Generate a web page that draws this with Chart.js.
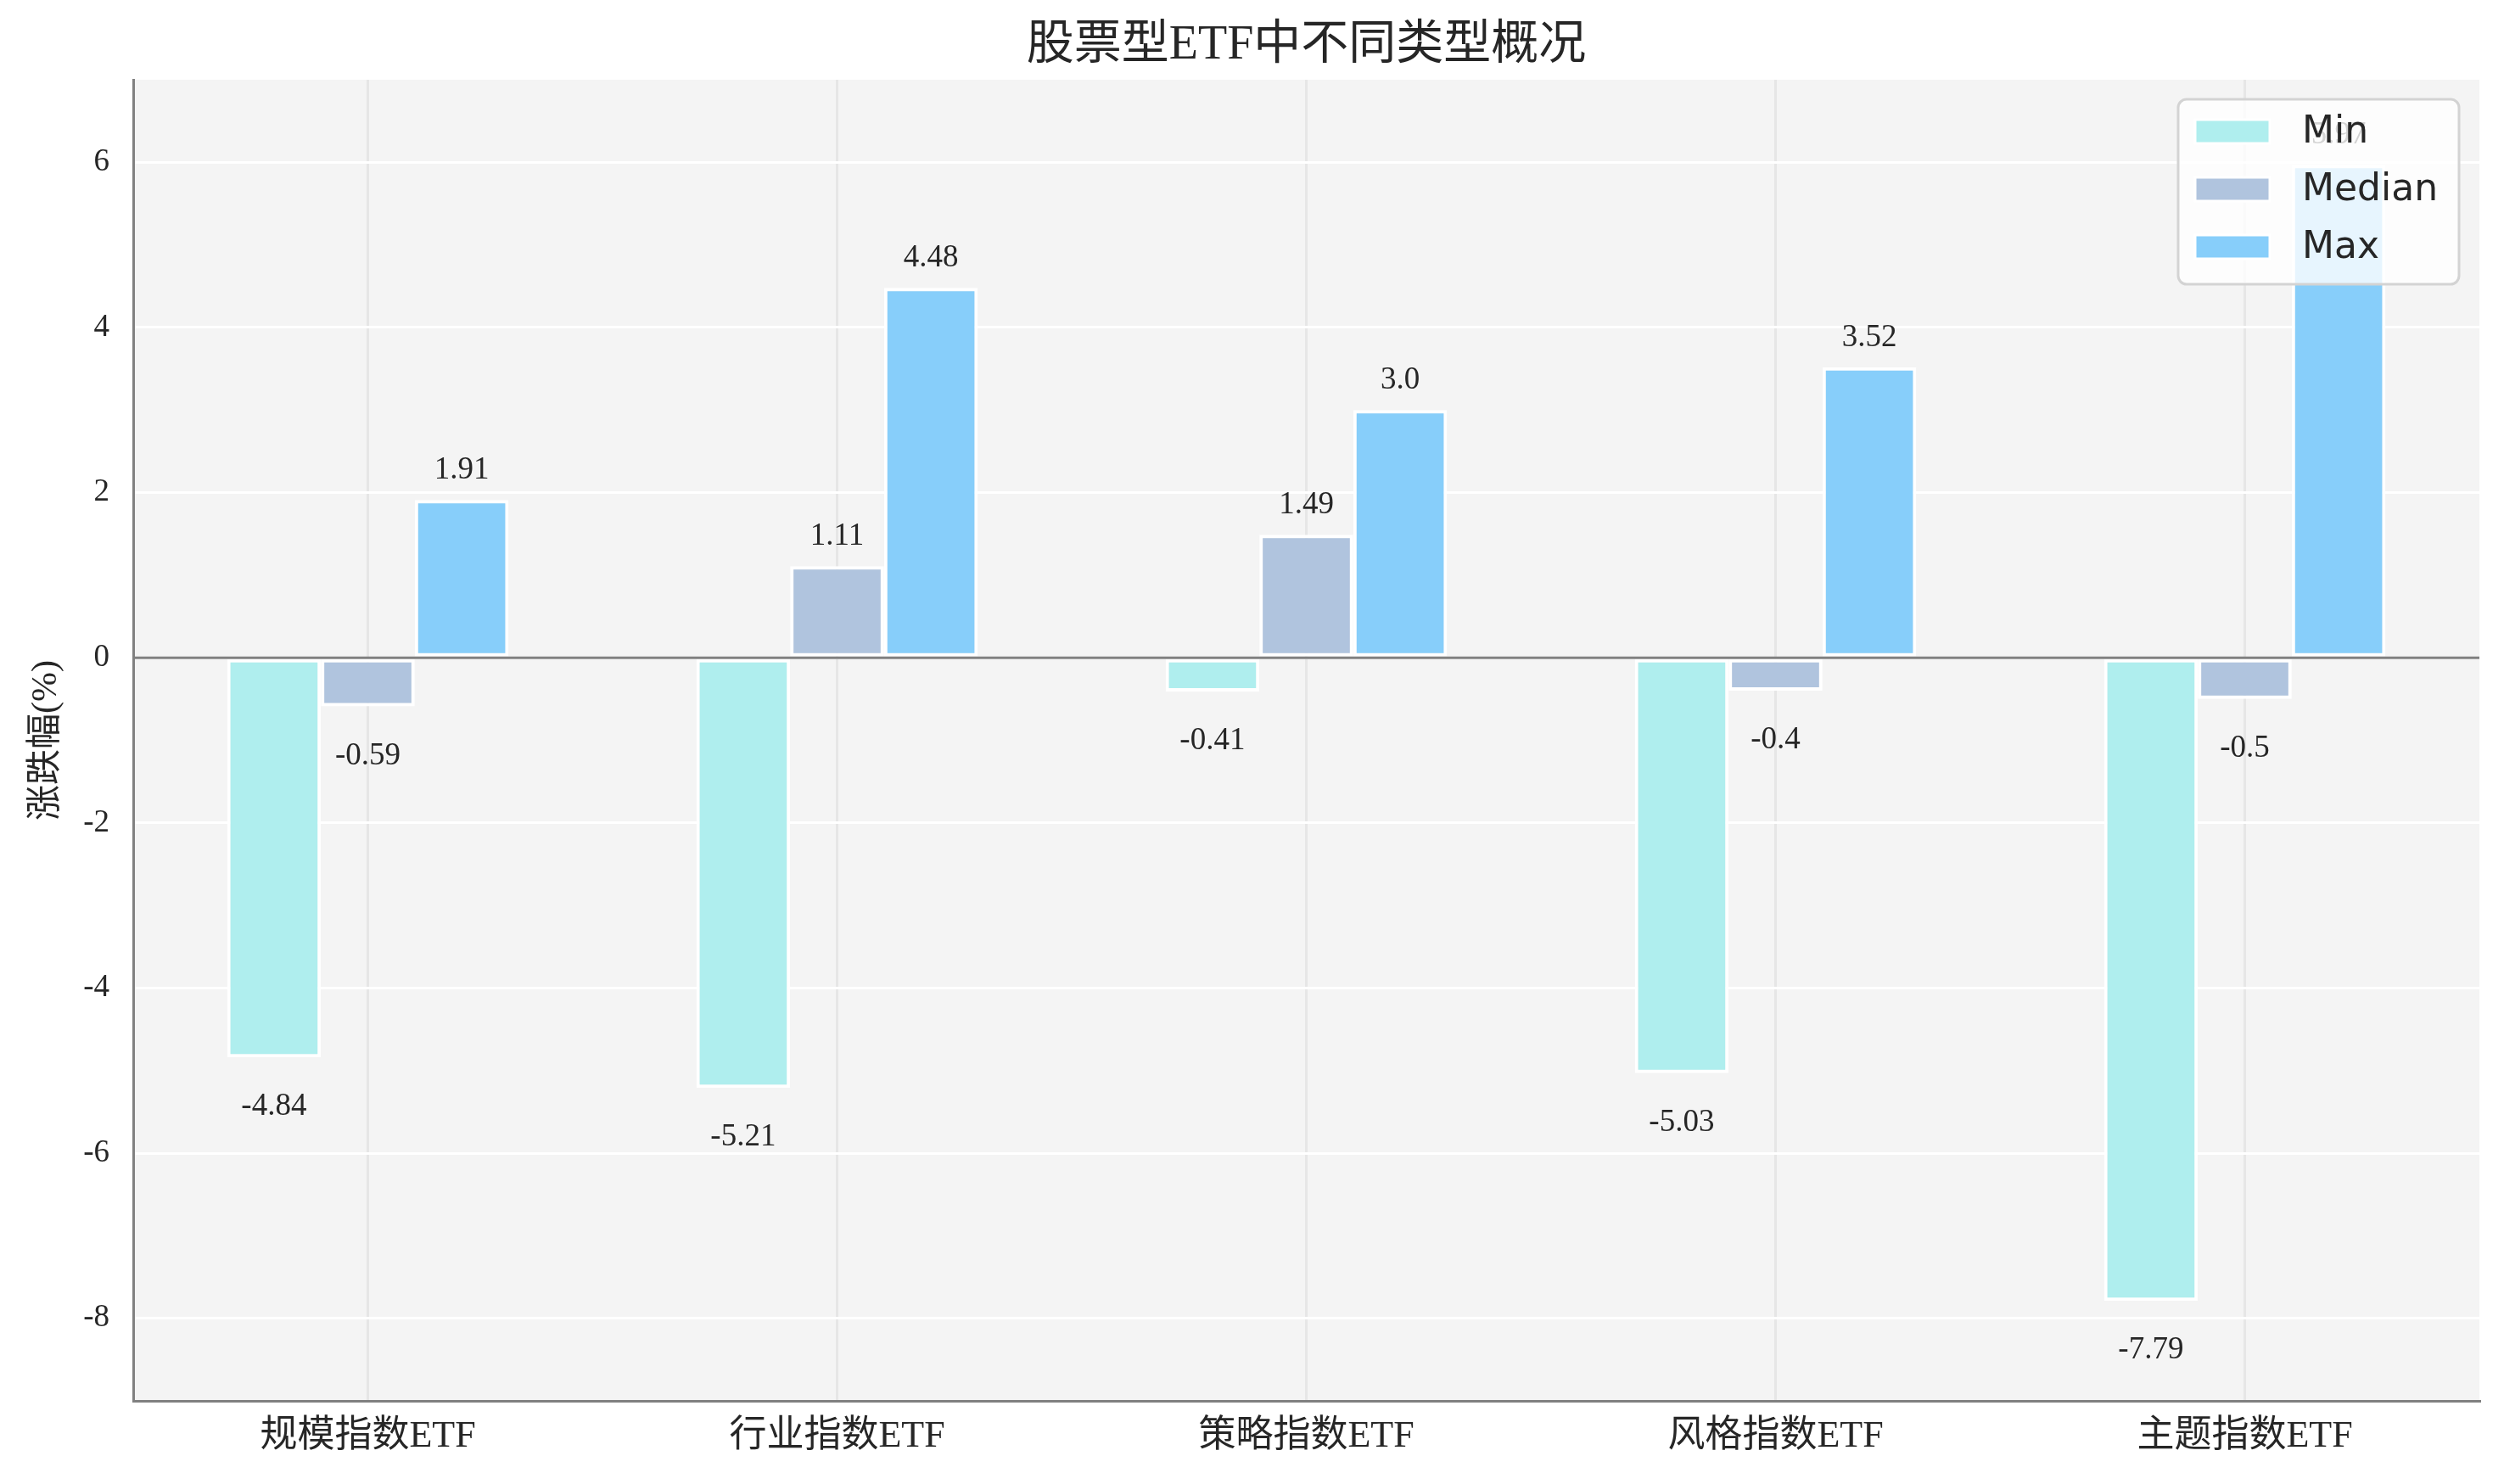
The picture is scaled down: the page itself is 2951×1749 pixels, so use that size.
<!DOCTYPE html>
<html>
<head>
<meta charset="utf-8">
<script src="https://cdn.jsdelivr.net/npm/chart.js@4.4.1/dist/chart.umd.min.js"></script>
<style>
  html, body { margin: 0; padding: 0; background: #ffffff; }
  #wrap { width: 2951px; height: 1749px; position: relative; }
</style>
</head>
<body>
<div id="wrap"><canvas id="myChart"></canvas></div>
<script>
// data
const categories = ['规模指数ETF', '行业指数ETF', '策略指数ETF', '风格指数ETF', '主题指数ETF'];
const minVals = [-4.84, -5.21, -0.41, -5.03, -7.79];
const medianVals = [-0.59, 1.11, 1.49, -0.4, -0.5];
const maxVals = [1.91, 4.48, 3.0, 3.52, 5.97];
const seriesNames = ['Min', 'Median', 'Max'];
const yTicks = [-8, -6, -4, -2, 0, 2, 4, 6];

const colors = ['#AFEEEE', '#B0C4DE', '#87CEFA'];
const serif = '"Liberation Serif", "Noto Sans CJK SC", serif';
const textColor = '#262626';
const titleText = '股票型ETF中不同类型概况';

function fmt(v) {
    return Number.isInteger(v) ? v.toFixed(1) : String(v);
}

// plot background
const bgPlugin = {
    id: 'plotBg',
    beforeDraw(chart) {
        const a = chart.chartArea, ctx = chart.ctx;
        ctx.save();
        ctx.fillStyle = '#f4f4f4';
        ctx.fillRect(a.left, a.top, a.right - a.left, a.bottom - a.top);
        ctx.restore();
    }
};

// zero line + value labels
const labelPlugin = {
    id: 'valueLabels',
    afterDatasetsDraw(chart) {
        const ctx = chart.ctx, a = chart.chartArea;
        const y0 = chart.scales.y.getPixelForValue(0);
        ctx.save();
        ctx.strokeStyle = '#808080';
        ctx.lineWidth = 3;
        ctx.beginPath();
        ctx.moveTo(a.left, y0);
        ctx.lineTo(a.right, y0);
        ctx.stroke();

        ctx.fillStyle = textColor;
        ctx.font = '37px ' + serif;
        ctx.textAlign = 'center';
        ctx.textBaseline = 'alphabetic';
        chart.data.datasets.forEach((ds, i) => {
            chart.getDatasetMeta(i).data.forEach((bar, j) => {
                const v = ds.data[j];
                const y = v >= 0 ? bar.y - 25 : bar.y + 68;
                ctx.fillText(fmt(v), bar.x, y);
            });
        });
        ctx.restore();
    }
};

// title centred over the plot, legend box inside the plot (top right)
const legendPlugin = {
    id: 'boxLegend',
    afterDraw(chart) {
        const ctx = chart.ctx, a = chart.chartArea;
        ctx.save();
        ctx.fillStyle = textColor;
        ctx.font = '56px ' + serif;
        ctx.textAlign = 'center';
        ctx.textBaseline = 'middle';
        ctx.fillText(titleText, (a.left + a.right) / 2, 54);

        const w = 331, h = 218;
        const x = a.right - 24 - w, y = a.top + 23;
        ctx.beginPath();
        ctx.roundRect(x, y, w, h, 10);
        ctx.fillStyle = 'rgba(255,255,255,0.8)';
        ctx.fill();
        ctx.strokeStyle = '#d3d3d3';
        ctx.lineWidth = 3;
        ctx.stroke();
        ctx.font = '44px "DejaVu Sans", sans-serif';
        ctx.textBaseline = 'middle';
        ctx.textAlign = 'left';
        seriesNames.forEach((name, i) => {
            const cy = y + 38 + i * 68;
            ctx.fillStyle = colors[i];
            ctx.fillRect(x + 20, cy - 14, 88, 28);
            ctx.strokeStyle = '#ffffff';
            ctx.lineWidth = 3;
            ctx.strokeRect(x + 20, cy - 14, 88, 28);
            ctx.fillStyle = textColor;
            ctx.fillText(name, x + 146, cy + 2);
        });
        ctx.restore();
    }
};

const ctx = document.getElementById('myChart').getContext('2d');
const myChart = new Chart(ctx, {
    type: 'bar',
    data: {
        labels: categories,
        datasets: [minVals, medianVals, maxVals].map((vals, i) => ({
            label: seriesNames[i],
            data: vals,
            backgroundColor: colors[i],
            borderColor: '#ffffff',
            borderWidth: 4,
            borderSkipped: false,
            categoryPercentage: 0.6,
            barPercentage: 1.0
        }))
    },
    options: {
        responsive: true,
        maintainAspectRatio: false,
        animation: false,
        devicePixelRatio: 1,
        layout: { padding: { left: 0, right: 29, top: 94, bottom: 0 } },
        plugins: {
            legend: { display: false },
            tooltip: { enabled: false },
            title: { display: false }
        },
        scales: {
            x: {
                grid: { offset: false, color: '#e6e6e6', lineWidth: 3, drawTicks: false },
                border: { color: '#808080', width: 3 },
                ticks: {
                    color: textColor,
                    font: { family: serif, size: 44 },
                    padding: 16
                },
                afterFit(scale) { scale.height = 98; }
            },
            y: {
                min: -9,
                max: 7,
                grid: { color: '#ffffff', lineWidth: 3, drawTicks: false },
                border: { color: '#808080', width: 3 },
                ticks: {
                    color: textColor,
                    font: { family: serif, size: 37 },
                    padding: 28
                },
                afterBuildTicks(scale) {
                    scale.ticks = yTicks.map(v => ({ value: v }));
                },
                title: {
                    display: true,
                    text: '涨跌幅(%)',
                    color: textColor,
                    font: { family: serif, size: 42 },
                    padding: { top: 30, bottom: 0 }
                },
                afterFit(scale) { scale.width = 157; }
            }
        }
    },
    plugins: [bgPlugin, labelPlugin, legendPlugin]
});
</script>
</body>
</html>
